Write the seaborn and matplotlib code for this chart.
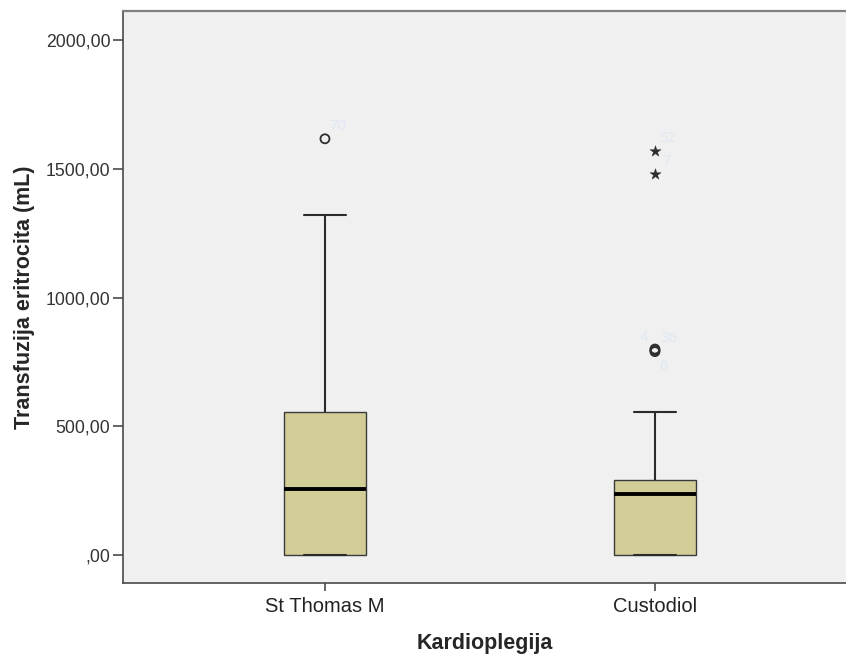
import numpy as np
import pandas as pd
import matplotlib
matplotlib.use("Agg")
import matplotlib.pyplot as plt
import seaborn as sns

# values (mL)
groups = ["St Thomas M", "Custodiol"]
whisker_lo = [0, 0]
q1 = [0, 0]
medians = [256, 238]
q3 = [555, 290]
whisker_hi = [1320, 555]
outliers = [[1616], [800, 795, 790]]      # circles
extremes = [[], [1481, 1570]]             # stars
outlier_ids = [["70"], ["4", "36", "6"]]
extreme_ids = [[], ["7", "52"]]
yticks = [0, 500, 1000, 1500, 2000]
ytick_labels = [",00", "500,00", "1000,00", "1500,00", "2000,00"]

# rebuild observations so the box statistics land on the read values
rows = []
for g, lo, a, m, b, hi, out, ext in zip(groups, whisker_lo, q1, medians, q3,
                                         whisker_hi, outliers, extremes):
    tail = out + ext
    k = len(tail) + 1
    vals = [lo] + [a] * k + [m] * k + [b] * k + [hi] + tail
    rows += [(g, v) for v in vals]
df = pd.DataFrame(rows, columns=["Kardioplegija", "value"])

df_out = pd.DataFrame([(g, v) for g, vs in zip(groups, outliers) for v in vs],
                      columns=["Kardioplegija", "value"])
df_ext = pd.DataFrame([(g, v) for g, vs in zip(groups, extremes) for v in vs],
                      columns=["Kardioplegija", "value"])

sns.set_theme(style="white")
plt.rcParams["font.family"] = ["Liberation Sans", "DejaVu Sans"]

fig = plt.figure(figsize=(8.46, 6.55), dpi=100)
ax = fig.add_axes([123 / 846, 1 - 583 / 655, 1 - 123 / 846, (583 - 11) / 655])
ax.set_facecolor("#f0f0f0")

sns.boxplot(
    data=df, x="Kardioplegija", y="value", order=groups,
    width=0.25, color="#d2cd96", saturation=1, showfliers=False,
    linecolor="#3a3a3a", linewidth=1.0,
    medianprops=dict(color="black", linewidth=2.8),
    whiskerprops=dict(color="#2a2a2a", linewidth=1.5),
    capprops=dict(color="#2a2a2a", linewidth=1.5),
    ax=ax,
)

sns.scatterplot(data=df_out, x="Kardioplegija", y="value", marker="o", s=42,
                facecolors="none", edgecolors="#2e2e2e", linewidth=1.3,
                legend=False, ax=ax)
sns.scatterplot(data=df_ext, x="Kardioplegija", y="value", marker="*", s=70,
                color="#2e2e2e", edgecolor="#2e2e2e", linewidth=0.3,
                legend=False, ax=ax)

# faint case labels next to outliers
label_offsets = {"70": (9, 9), "4": (-8, 9), "36": (10, 9), "6": (6, -10),
                 "7": (8, 9), "52": (9, 9)}
for i, (vals, ids) in enumerate(zip(outliers, outlier_ids)):
    for v, t in zip(vals, ids):
        ax.annotate(t, xy=(i, v), xytext=label_offsets[t], textcoords="offset points",
                    ha="center", va="center", fontsize=11, color="#e0e8f3")
for i, (vals, ids) in enumerate(zip(extremes, extreme_ids)):
    for v, t in zip(vals, ids):
        ax.annotate(t, xy=(i, v), xytext=label_offsets[t], textcoords="offset points",
                    ha="center", va="center", fontsize=11, color="#e0e8f3")

ax.set_xlim(-0.612, 1.579)
ax.set_ylim(-108, 2112)
ax.set_yticks(yticks)
ax.set_yticklabels(ytick_labels)
ax.tick_params(axis="y", direction="out", length=7, width=1.1, color="#3a3a3a",
               labelsize=12.7, pad=2, labelcolor="#333333", left=True)
ax.tick_params(axis="x", direction="out", length=6, width=1.1, color="#3a3a3a",
               labelsize=14.5, pad=4, labelcolor="#222222", bottom=True)

ax.set_xlabel("Kardioplegija", fontsize=15.5, fontweight="bold", labelpad=12)
ax.set_ylabel("Transfuzija eritrocita (mL)", fontsize=15.5, fontweight="bold", labelpad=8)

for side in ["left", "bottom"]:
    ax.spines[side].set_color("#4a4a4a")
    ax.spines[side].set_linewidth(1.2)
ax.spines["top"].set_color("#808080")
ax.spines["top"].set_linewidth(1.6)
ax.spines["right"].set_visible(False)

fig.savefig("out.png", dpi=100, facecolor="white")
